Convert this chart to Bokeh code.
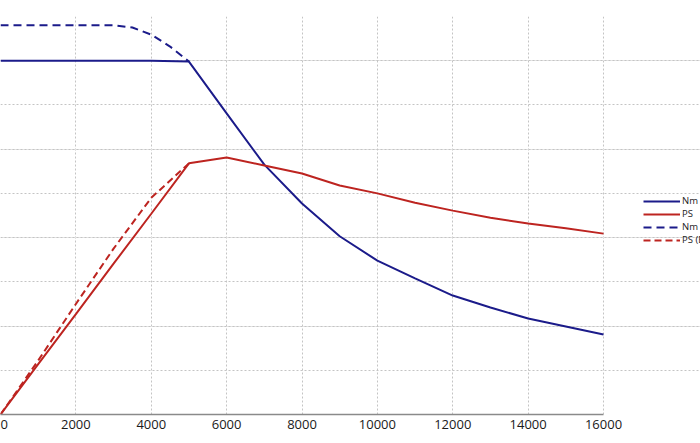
from bokeh.plotting import figure
from bokeh.models import Range1d, FixedTicker, Grid, Legend, LegendItem
from bokeh.embed import file_html
from bokeh.resources import INLINE

# Data (y in grid units, 10 per gridline)
rpm = [0, 1000, 2000, 3000, 4000, 5000, 6000, 7000, 8000, 9000, 10000,
       11000, 12000, 13000, 14000, 15000, 16000]
nm = [80.0, 80.0, 80.0, 80.0, 80.0, 79.8, 68.1, 56.5, 47.7, 40.3, 34.8,
      30.8, 26.9, 24.2, 21.7, 19.9, 18.1]
ps = [0.0, 11.4, 22.7, 34.1, 45.4, 56.8, 58.1, 56.3, 54.5, 51.8, 50.0,
      47.9, 46.1, 44.5, 43.2, 42.1, 40.9]

rpm_boost_nm = [0, 1000, 2000, 3000, 3500, 4000, 4500, 5000]
nm_boost = [88.0, 88.0, 88.0, 88.0, 87.5, 85.9, 83.2, 79.8]
rpm_boost_ps = [0, 1000, 2000, 3000, 4000, 5000]
ps_boost = [0.0, 12.2, 25.0, 37.5, 49.0, 56.8]

x_ticks = [0, 2000, 4000, 6000, 8000, 10000, 12000, 14000, 16000]
y_grid = [0, 10, 20, 30, 40, 50, 60, 70, 80, 90]
labels = ["Nm", "PS", "Nm (Boost)", "PS (Boost)"]

BLUE = "#1b1b8a"
RED = "#bd2420"

X_MAX = x_ticks[-1]
Y_MAX = y_grid[-1]

p = figure(width=700, height=443, output_backend="svg", toolbar_location=None,
           x_range=Range1d(0, X_MAX * 700 / 603), y_range=Range1d(0, Y_MAX),
           y_axis_location=None,
           min_border_left=0, min_border_right=0, min_border_top=16,
           min_border_bottom=29)
p.outline_line_color = None
p.background_fill_color = "white"
p.border_fill_color = "white"

# x axis
p.xaxis.ticker = FixedTicker(ticks=x_ticks)
p.xaxis.bounds = (0, X_MAX)
p.xaxis.minor_tick_line_color = None
p.xaxis.major_tick_out = 0
p.xaxis.major_tick_in = 0
p.xaxis.axis_line_color = "#8a8a8a"
p.xaxis.axis_line_width = 1.5
p.xaxis.major_label_text_font = "Open Sans"
p.xaxis.major_label_text_font_size = "13px"
p.xaxis.major_label_text_color = "#1a1a1a"
p.xaxis.major_label_standoff = 5

p.xgrid.ticker = FixedTicker(ticks=x_ticks)
p.xgrid.bounds = (0, Y_MAX)
p.xgrid.grid_line_color = "#c4c4c4"
p.xgrid.grid_line_dash = "2 2"
p.xgrid.grid_line_width = 1

yg = Grid(dimension=1, ticker=FixedTicker(ticks=y_grid), bounds=(0, X_MAX),
          grid_line_color="#c4c4c4", grid_line_dash="2 2", grid_line_width=1)
p.add_layout(yg)

r1 = p.line(rpm, nm, line_color=BLUE, line_width=2)
r2 = p.line(rpm, ps, line_color=RED, line_width=2)
r3 = p.line(rpm_boost_nm, nm_boost, line_color=BLUE, line_width=2, line_dash="8 5")
r4 = p.line(rpm_boost_ps, ps_boost, line_color=RED, line_width=2, line_dash="7 4")

legend = Legend(items=[LegendItem(label=labels[0], renderers=[r1]),
                       LegendItem(label=labels[1], renderers=[r2]),
                       LegendItem(label=labels[2], renderers=[r3]),
                       LegendItem(label=labels[3], renderers=[r4])],
                location=(643, 168), orientation="vertical",
                glyph_width=37, glyph_height=10, spacing=0, padding=0, margin=0,
                label_standoff=2, label_height=10,
                label_text_font="Open Sans", label_text_font_size="9.5px",
                label_text_color="#222222",
                border_line_color=None, background_fill_alpha=0)
p.add_layout(legend)

open("out.html", "w").write(file_html(p, INLINE))
